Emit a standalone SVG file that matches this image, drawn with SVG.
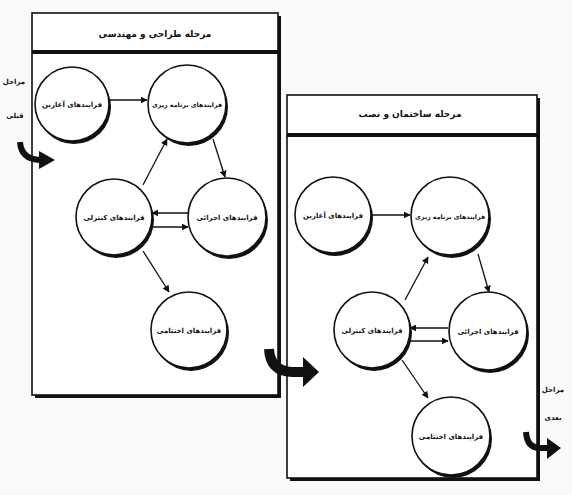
<svg xmlns="http://www.w3.org/2000/svg" width="572" height="495" viewBox="0 0 572 495">
<defs>
<style>
.t{font-family:"DejaVu Sans",sans-serif;font-weight:bold;fill:#111;text-anchor:middle}
.n{font-size:7px}
.p{font-size:6.3px}
.h{font-size:9px}
.s{font-size:7px}
.box{fill:#fff;stroke:#111;stroke-width:1.6}
.sh{fill:#111}
.cs{fill:#111}
.cf{fill:#fff;stroke:#111;stroke-width:1.6}
.ln{stroke:#111;stroke-width:1.3;fill:none;marker-end:url(#ah)}
.big{stroke:#111;fill:none;stroke-linecap:butt}
</style>
<marker id="ah" viewBox="0 0 10 10" refX="9" refY="5" markerWidth="7" markerHeight="7" markerUnits="userSpaceOnUse" orient="auto">
<path d="M0,0 L10,5 L0,10 z" fill="#111"/>
</marker>
</defs>
<rect width="572" height="495" fill="#fafafa"/>

<g id="box-design">
<rect x="35" y="16" width="246" height="382" class="sh"/>
<rect x="32" y="13" width="246" height="382" class="box"/>
<rect x="32" y="50" width="246" height="4" fill="#111"/>
<text x="155" y="37" class="t h">مرحله طراحی و مهندسی</text>
</g>

<g id="box-construction">
<rect x="290" y="98" width="250" height="383" class="sh"/>
<rect x="287" y="95" width="250" height="383" class="box"/>
<rect x="287" y="133" width="250" height="4" fill="#111"/>
<text x="410" y="117" class="t h">مرحله ساختمان و نصب</text>
</g>

<g id="d-init"><circle cx="74" cy="107" r="37" class="cs"/><circle cx="72" cy="104" r="37" class="cf"/><text x="72" y="107" class="t n">فرایندهای آغازین</text></g>
<g id="d-plan"><circle cx="189" cy="107" r="39" class="cs"/><circle cx="187" cy="104" r="39" class="cf"/><text x="187" y="107" class="t p">فرایندهای برنامه ریزی</text></g>
<g id="d-ctrl"><circle cx="116" cy="220" r="38" class="cs"/><circle cx="114" cy="217" r="38" class="cf"/><text x="114" y="220" class="t n">فرایندهای کنترلی</text></g>
<g id="d-exec"><circle cx="229" cy="220" r="39" class="cs"/><circle cx="227" cy="217" r="39" class="cf"/><text x="227" y="220" class="t n">فرایندهای اجرائی</text></g>
<g id="d-close"><circle cx="191" cy="333" r="38" class="cs"/><circle cx="189" cy="330" r="38" class="cf"/><text x="189" y="333" class="t n">فرایندهای اختتامی</text></g>

<g id="c-init"><circle cx="335" cy="218" r="38" class="cs"/><circle cx="333" cy="215" r="38" class="cf"/><text x="333" y="218" class="t n">فرایندهای آغازین</text></g>
<g id="c-plan"><circle cx="452" cy="219" r="39" class="cs"/><circle cx="450" cy="216" r="39" class="cf"/><text x="450" y="219" class="t p">فرایندهای برنامه ریزی</text></g>
<g id="c-ctrl"><circle cx="374" cy="333" r="38" class="cs"/><circle cx="372" cy="330" r="38" class="cf"/><text x="372" y="333" class="t n">فرایندهای کنترلی</text></g>
<g id="c-exec"><circle cx="490" cy="334" r="39" class="cs"/><circle cx="488" cy="331" r="39" class="cf"/><text x="488" y="334" class="t n">فرایندهای اجرائی</text></g>
<g id="c-close"><circle cx="453" cy="439" r="39" class="cs"/><circle cx="451" cy="436" r="39" class="cf"/><text x="451" y="439" class="t n">فرایندهای اختتامی</text></g>

<g id="labels">
<text x="14" y="84" class="t s">مراحل</text>
<text x="15" y="118" class="t s">قبلی</text>
<text x="553" y="392" class="t s">مراحل</text>
<text x="553" y="420" class="t s">بعدی</text>
</g>

<g id="connectors">
<line x1="110" y1="100" x2="147" y2="100" class="ln"/>
<line x1="143" y1="185" x2="167" y2="139" class="ln"/>
<line x1="213" y1="139" x2="225" y2="177" class="ln"/>
<line x1="188" y1="213" x2="152" y2="213" class="ln"/>
<line x1="152" y1="227" x2="188" y2="227" class="ln"/>
<line x1="143" y1="251" x2="169" y2="292" class="ln"/>

<line x1="372" y1="215" x2="410" y2="215" class="ln"/>
<line x1="405" y1="300" x2="428" y2="257" class="ln"/>
<line x1="478" y1="254" x2="489" y2="292" class="ln"/>
<line x1="448" y1="328" x2="410" y2="328" class="ln"/>
<line x1="410" y1="341" x2="448" y2="341" class="ln"/>
<line x1="402" y1="360" x2="428" y2="398" class="ln"/>

<path d="M20,142 Q21,159 40,160" class="big" stroke-width="6"/>
<polygon points="39,151 55,160 39,169" fill="#111"/>
<path d="M269,349 Q270,371 292,372 L304,372" class="big" stroke-width="10"/>
<polygon points="303,357 319,372 303,387" fill="#111"/>
<path d="M526,432 Q527,448 540,448 L548,448" class="big" stroke-width="6"/>
<polygon points="547,438 561,448 547,459" fill="#111"/>
</g>
</svg>
